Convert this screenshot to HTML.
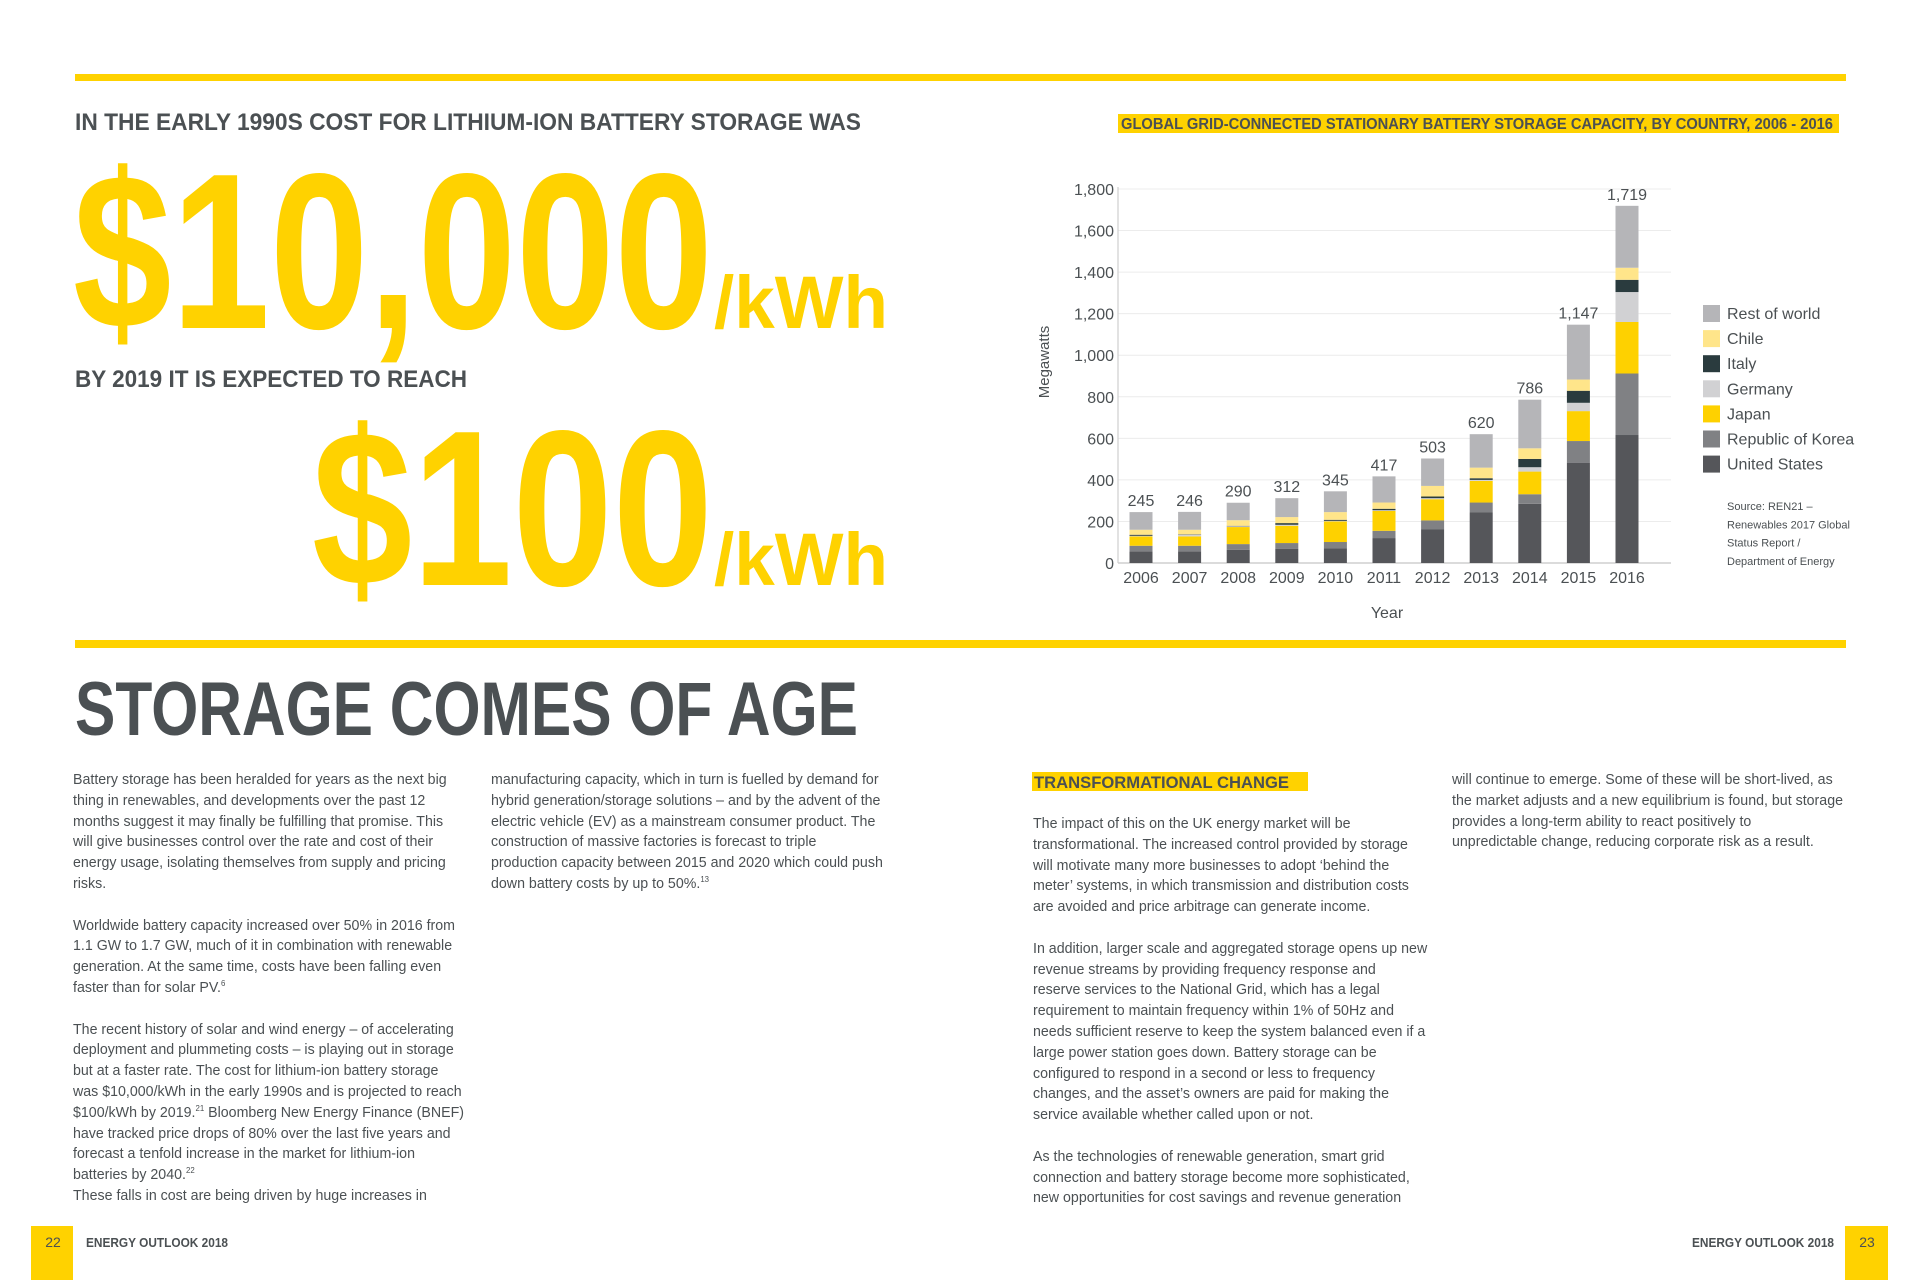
<!DOCTYPE html>
<html><head><meta charset="utf-8">
<style>
html,body{margin:0;padding:0;background:#fff;}
body{width:1920px;height:1280px;position:relative;overflow:hidden;font-family:"Liberation Sans Narrow","Liberation Sans",sans-serif;color:#4b5053;}
svg{position:absolute;left:0;top:0;}
.col{position:absolute;font-family:"Liberation Sans Narrow","Liberation Sans",sans-serif;font-size:14.5px;line-height:20.8px;color:#4b5053;white-space:nowrap;transform:scaleX(0.98);transform-origin:0 0;}
.col p{margin:0 0 20.8px 0;}
sup{font-size:8px;line-height:0;}
</style></head>
<body>
<svg width="1920" height="1280" viewBox="0 0 1920 1280">
  <rect x="75" y="74" width="1771" height="7" fill="#ffd200"/>
  <text x="75" y="130" font-size="24" font-weight="bold" fill="#4b5053" textLength="786" lengthAdjust="spacingAndGlyphs">IN THE EARLY 1990S COST FOR LITHIUM-ION BATTERY STORAGE WAS</text>
  <text x="73" y="328" font-size="222" font-weight="bold" fill="#ffd200" textLength="640" lengthAdjust="spacingAndGlyphs">$10,000</text>
  <text x="714" y="328" font-size="74" font-weight="bold" fill="#ffd200" textLength="174" lengthAdjust="spacingAndGlyphs">/kWh</text>
  <text x="75" y="387" font-size="24" font-weight="bold" fill="#4b5053" textLength="392" lengthAdjust="spacingAndGlyphs">BY 2019 IT IS EXPECTED TO REACH</text>
  <text x="312" y="585" font-size="222" font-weight="bold" fill="#ffd200" textLength="401" lengthAdjust="spacingAndGlyphs">$100</text>
  <text x="714" y="585" font-size="74" font-weight="bold" fill="#ffd200" textLength="174" lengthAdjust="spacingAndGlyphs">/kWh</text>
  <rect x="75" y="640" width="1771" height="8" fill="#ffd200"/>
  <text x="75" y="735" font-size="76" font-weight="bold" fill="#4b5053" textLength="783" lengthAdjust="spacingAndGlyphs">STORAGE COMES OF AGE</text>

  <rect x="1118" y="114" width="721" height="19" fill="#ffd200"/>
  <text x="1121" y="129" font-size="16" font-weight="bold" fill="#4b5053" textLength="712" lengthAdjust="spacingAndGlyphs">GLOBAL GRID-CONNECTED STATIONARY BATTERY STORAGE CAPACITY, BY COUNTRY, 2006 - 2016</text>

  <g id="chart"></g>

  <rect x="1032" y="772" width="276" height="19" fill="#ffd200"/>
  <text x="1034" y="788" font-size="17" font-weight="bold" fill="#4b5053" textLength="255" lengthAdjust="spacingAndGlyphs">TRANSFORMATIONAL CHANGE</text>

  <rect x="31" y="1226" width="42" height="54" fill="#ffd200"/>
  <text x="53" y="1247" font-size="14" fill="#4b5053" text-anchor="middle">22</text>
  <text x="86" y="1247" font-size="13" font-weight="bold" fill="#4b5053" textLength="142" lengthAdjust="spacingAndGlyphs">ENERGY OUTLOOK 2018</text>
  <rect x="1845" y="1226" width="43" height="54" fill="#ffd200"/>
  <text x="1867" y="1247" font-size="14" fill="#4b5053" text-anchor="middle">23</text>
  <text x="1692" y="1247" font-size="13" font-weight="bold" fill="#4b5053" textLength="142" lengthAdjust="spacingAndGlyphs">ENERGY OUTLOOK 2018</text>
</svg>

<div class="col" style="left:73px;top:770px;">
<p>Battery storage has been heralded for years as the next big<br>thing in renewables, and developments over the past 12<br>months suggest it may finally be fulfilling that promise. This<br>will give businesses control over the rate and cost of their<br>energy usage, isolating themselves from supply and pricing<br>risks.</p>
<p>Worldwide battery capacity increased over 50% in 2016 from<br>1.1 GW to 1.7 GW, much of it in combination with renewable<br>generation. At the same time, costs have been falling even<br>faster than for solar PV.<sup>6</sup></p>
<p style="margin:0">The recent history of solar and wind energy – of accelerating<br>deployment and plummeting costs – is playing out in storage<br>but at a faster rate. The cost for lithium-ion battery storage<br>was $10,000/kWh in the early 1990s and is projected to reach<br>$100/kWh by 2019.<sup>21</sup> Bloomberg New Energy Finance (BNEF)<br>have tracked price drops of 80% over the last five years and<br>forecast a tenfold increase in the market for lithium-ion<br>batteries by 2040.<sup>22</sup><br>These falls in cost are being driven by huge increases in</p>
</div>
<div class="col" style="left:491px;top:770px;">
<p>manufacturing capacity, which in turn is fuelled by demand for<br>hybrid generation/storage solutions – and by the advent of the<br>electric vehicle (EV) as a mainstream consumer product. The<br>construction of massive factories is forecast to triple<br>production capacity between 2015 and 2020 which could push<br>down battery costs by up to 50%.<sup>13</sup></p>
</div>
<div class="col" style="left:1033px;top:814px;">
<p>The impact of this on the UK energy market will be<br>transformational. The increased control provided by storage<br>will motivate many more businesses to adopt ‘behind the<br>meter’ systems, in which transmission and distribution costs<br>are avoided and price arbitrage can generate income.</p>
<p>In addition, larger scale and aggregated storage opens up new<br>revenue streams by providing frequency response and<br>reserve services to the National Grid, which has a legal<br>requirement to maintain frequency within 1% of 50Hz and<br>needs sufficient reserve to keep the system balanced even if a<br>large power station goes down. Battery storage can be<br>configured to respond in a second or less to frequency<br>changes, and the asset’s owners are paid for making the<br>service available whether called upon or not.</p>
<p>As the technologies of renewable generation, smart grid<br>connection and battery storage become more sophisticated,<br>new opportunities for cost savings and revenue generation</p>
</div>
<div class="col" style="left:1452px;top:770px;">
<p>will continue to emerge. Some of these will be short-lived, as<br>the market adjusts and a new equilibrium is found, but storage<br>provides a long-term ability to react positively to<br>unpredictable change, reducing corporate risk as a result.</p>
</div>

<script>
const years = ["2006","2007","2008","2009","2010","2011","2012","2013","2014","2015","2016"];
const unitedStates = [56,56,64,69,70,120,163,243,285,483,616];
const korea = [27,27,27,27,31,35,42,48,46,104,296];
const japan = [45,45,82,83,99,96,102,104,109,144,248];
const germany = [3,8,4,5,3,3,5,5,21,40,144];
const italy = [5,2,2,8,5,7,8,8,40,58,59];
const chile = [24,22,27,29,37,30,51,51,51,54,58];
const restOfWorld = [85,86,84,91,100,126,132,161,234,264,298];
const yTicks = [0,200,400,600,800,1000,1200,1400,1600,1800];

const NS = "http://www.w3.org/2000/svg";
const g = document.getElementById("chart");
const x0 = 1118, x1 = 1671, yBase = 563, yTop = 189, yMax = 1800;
const yScale = v => yBase - v / yMax * (yBase - yTop);
const step = 48.6, first = 1141, bw = 23;
const xScale = i => first + i * step;
function mk(tag, attrs) { const e = document.createElementNS(NS, tag); for (const k in attrs) e.setAttribute(k, attrs[k]); g.appendChild(e); return e; }

yTicks.forEach(t => {
  const y = yScale(t);
  if (t > 0) {
    const l = mk("line", {x1: x0, x2: x1, y1: y, y2: y, stroke: "#ececec", "stroke-width": 1});
    
    
  }
  const tx = mk("text", {x: 1114, y: y + 6, "font-size": 16, fill: "#4b5053", "text-anchor": "end"});
  
  
  tx.textContent = t.toLocaleString("en-US");
});
const ax = mk("line", {x1: x0, x2: x0, y1: yTop - 2, y2: yBase, stroke: "#cfcfcf", "stroke-width": 1.2});


const bx = mk("line", {x1: x0, x2: x1, y1: yBase, y2: yBase, stroke: "#cfcfcf", "stroke-width": 1.5});



const series = [
  {name: "United States", data: unitedStates, color: "#55565a"},
  {name: "Republic of Korea", data: korea, color: "#808184"},
  {name: "Japan", data: japan, color: "#fed100"},
  {name: "Germany", data: germany, color: "#d1d1d3"},
  {name: "Italy", data: italy, color: "#2a3b3e"},
  {name: "Chile", data: chile, color: "#ffe58a"},
  {name: "Rest of world", data: restOfWorld, color: "#b5b5b8"}
];

years.forEach((yr, i) => {
  let acc = 0;
  const cx = xScale(i);
  series.forEach(s => {
    const v = s.data[i];
    const r = mk("rect", {x: cx - bw / 2, y: yScale(acc + v), width: bw, height: yScale(acc) - yScale(acc + v), fill: s.color});
    
    
    acc += v;
  });
  const tl = mk("text", {x: cx, y: yScale(acc) - 6, "font-size": 16, fill: "#4b5053", "text-anchor": "middle"});
  
  
  tl.textContent = acc.toLocaleString("en-US");
  const xl = mk("text", {x: cx, y: 583, "font-size": 16, fill: "#4b5053", "text-anchor": "middle"});
  
  
  xl.textContent = yr;
});

const xt = mk("text", {x: 1387, y: 618, "font-size": 16, fill: "#4b5053", "text-anchor": "middle"});


xt.textContent = "Year";
const yt = mk("text", {x: 0, y: 0, "font-size": 15, fill: "#4b5053", "text-anchor": "middle", transform: "translate(1049,362) rotate(-90)"});


yt.textContent = "Megawatts";

series.slice().reverse().forEach((s, k) => {
  const y = 313 + k * 25.1;
  const sw = mk("rect", {x: 1703, y: y - 8, width: 17, height: 17, fill: s.color});
  
  
  const lt = mk("text", {x: 1727, y: y + 6, "font-size": 16, fill: "#4b5053"});
  
  
  lt.textContent = s.name;
});
["Source: REN21 –", "Renewables 2017 Global", "Status Report /", "Department of Energy"].forEach((t, k) => {
  const st = mk("text", {x: 1727, y: 510 + k * 18.3, "font-size": 11, fill: "#4b5053"});
  
  
  st.textContent = t;
});
</script>
</body></html>
